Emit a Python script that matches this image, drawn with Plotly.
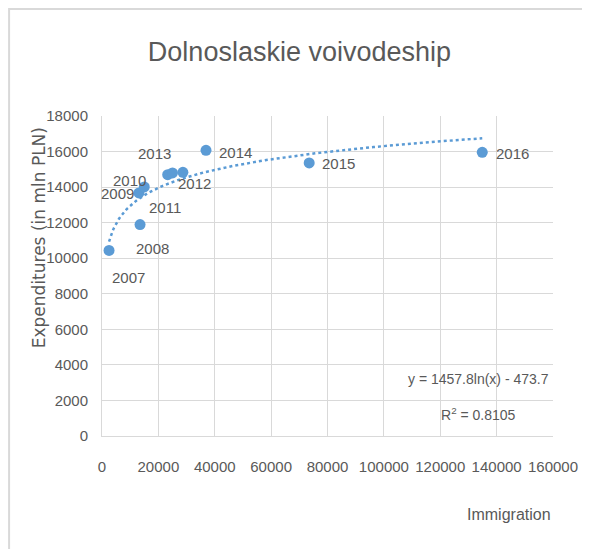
import numpy as np
import plotly.graph_objects as go

# data
years = ["2007", "2008", "2009", "2010", "2011", "2012", "2013", "2014", "2015", "2016"]
immigration = [2500, 13500, 13100, 15000, 23300, 28700, 25000, 36900, 73500, 134900]
expenditures = [10440, 11890, 13670, 14010, 14700, 14830, 14800, 16070, 15360, 15960]

# log trendline as printed on the chart
trend_a = 1457.8
trend_b = -473.7
trend_r2 = 0.8105

x_ticks = [0, 20000, 40000, 60000, 80000, 100000, 120000, 140000, 160000]
y_ticks = [0, 2000, 4000, 6000, 8000, 10000, 12000, 14000, 16000, 18000]

# label offsets (pixels) so the year labels sit like in the original
label_shift = {
    "2007": (19, -27), "2008": (12, -24), "2009": (-21, -1), "2010": (-15, 6),
    "2011": (-3, -33), "2012": (12, -11), "2013": (-18, 19), "2014": (29, -2),
    "2015": (29, -1), "2016": (30, -1),
}

FONT = "Liberation Sans, Arial, sans-serif"
GREY = "#595959"
BLUE = "#5b9bd5"
GRID = "#d9d9d9"

tx = np.linspace(min(immigration), max(immigration), 300)
ty = trend_a * np.log(tx) + trend_b

fig = go.Figure()
fig.add_trace(go.Scatter(
    x=tx, y=ty, mode="lines",
    line=dict(color=BLUE, width=2.5, dash="dot"),
    hoverinfo="skip", showlegend=False,
))
fig.add_trace(go.Scatter(
    x=immigration, y=expenditures, mode="markers",
    marker=dict(color=BLUE, size=11),
    text=years, showlegend=False,
))

for yr, xv, yv in zip(years, immigration, expenditures):
    dx, dy = label_shift[yr]
    fig.add_annotation(x=xv, y=yv, text=yr, showarrow=False,
                       xshift=dx, yshift=dy,
                       font=dict(family=FONT, size=15, color=GREY))

fig.add_annotation(xref="paper", yref="paper", x=0.834, y=0.178,
                   text=f"y = {trend_a}ln(x) - {abs(trend_b)}", showarrow=False,
                   xanchor="center", yanchor="middle",
                   font=dict(family=FONT, size=14, color=GREY))
fig.add_annotation(xref="paper", yref="paper", x=0.835, y=0.07,
                   text=f"R<sup>2</sup> = {trend_r2}", showarrow=False,
                   xanchor="center", yanchor="middle",
                   font=dict(family=FONT, size=14, color=GREY))

# outer chart border (only top/left visible in the reference)
fig.add_shape(type="rect", xref="paper", yref="paper",
              x0=-0.206, y0=-0.36, x1=1.08, y1=1.334,
              line=dict(color=GRID, width=2), layer="below")

fig.update_layout(
    width=590, height=549,
    margin=dict(l=94, r=45, t=108, b=121),
    paper_bgcolor="white", plot_bgcolor="white",
    title=dict(text="Dolnoslaskie voivodeship", x=0.494, xanchor="center",
               y=0.92, yanchor="middle",
               font=dict(family=FONT, size=27, color=GREY)),
    font=dict(family=FONT, color=GREY),
    xaxis=dict(
        range=[0, 160000], tickvals=x_ticks, ticktext=[str(v) for v in x_ticks],
        showgrid=True, gridcolor=GRID, gridwidth=1,
        showline=True, linecolor=GRID, linewidth=1, mirror=False,
        zeroline=False, ticks="", ticklabelstandoff=17, tickangle=0,
        tickfont=dict(family=FONT, size=15, color=GREY),
        title=dict(text=""), automargin=False,
    ),
    yaxis=dict(
        range=[0, 18000], tickvals=y_ticks, ticktext=[str(v) for v in y_ticks],
        showgrid=True, gridcolor=GRID, gridwidth=1,
        showline=True, linecolor=GRID, linewidth=1,
        zeroline=False, ticks="", ticklabelstandoff=10,
        tickfont=dict(family=FONT, size=15, color=GREY),
        title=dict(text=""), automargin=False,
    ),
)

fig.add_annotation(xref="paper", yref="paper", x=1.0, y=-0.245,
                   text="Immigration", showarrow=False,
                   xanchor="right", yanchor="middle",
                   font=dict(family=FONT, size=16, color=GREY))
fig.add_annotation(xref="paper", yref="paper", x=-0.139, y=0.619,
                   text="Expenditures (in mln PLN)", showarrow=False,
                   textangle=-90, xanchor="center", yanchor="middle",
                   font=dict(family="DejaVu Sans, Verdana, sans-serif", size=17, color=GREY))

fig.write_html("out.html")
